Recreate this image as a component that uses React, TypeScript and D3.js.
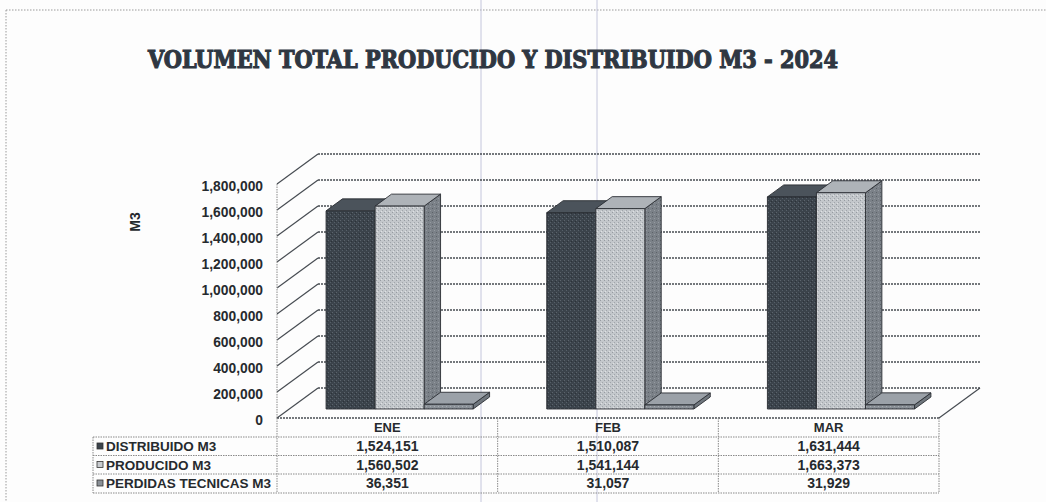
import React from "react";
import * as d3 from "d3";

const title = "VOLUMEN TOTAL PRODUCIDO Y DISTRIBUIDO M3 - 2024";
const yAxisTitle = "M3";
const categories = ["ENE", "FEB", "MAR"];
const seriesNames = ["DISTRIBUIDO M3", "PRODUCIDO M3", "PERDIDAS TECNICAS M3"];
const distribuido = [1524151, 1510087, 1631444];
const producido = [1560502, 1541144, 1663373];
const perdidas = [36351, 31057, 31929];
const yTicks = [0, 200000, 400000, 600000, 800000, 1000000, 1200000, 1400000, 1600000, 1800000];

const series = [distribuido, producido, perdidas];

const W = 1046;
const H = 502;
// plot geometry (front plane)
const X0 = 277;
const X1 = 939;
const Y0 = 418;
const Y1 = 184;
const DX = 41;
const DY = -30;
const F0 = 0.3;
const F1 = 0.7;

const faces = [
  { front: "url(#pDist)", top: "#4b535b", side: "#2f363d" },
  { front: "url(#pProd)", top: "#aeb3b8", side: "url(#pSide)" },
  { front: "url(#pPerd)", top: "#9ba1a8", side: "#6f767d" },
];

const fmt = d3.format(",");

export default function App() {
  const x = d3.scaleBand<string>().domain(categories).range([X0, X1]).paddingInner(0).paddingOuter(0);
  const y = d3.scaleLinear().domain([0, 1800000]).range([Y0, Y1]);
  const step = x.step();
  const bw = step / 4.5;
  const fx = F0 * DX;
  const fy = F0 * DY;
  const ddx = (F1 - F0) * DX;
  const ddy = (F1 - F0) * DY;

  const grid = "#474c52";
  const tableLine = "#8a8a8a";
  const ink = "#262a2e";

  const rowYs = [437, 455.5, 474, 493];

  const bars: JSX.Element[] = [];
  categories.forEach((c, ci) => {
    series.forEach((s, si) => {
      const v = s[ci];
      const bx0 = (x(c) as number) + 0.75 * bw + si * bw + fx;
      const bx1 = bx0 + bw;
      const yb = y(0) + fy;
      const yt = y(v) + fy;
      const f = faces[si];
      bars.push(
        <g key={`${c}-${si}`} stroke="#2a2e33" strokeWidth={0.9} strokeLinejoin="round">
          <polygon
            points={`${bx1},${yt} ${bx1 + ddx},${yt + ddy} ${bx1 + ddx},${yb + ddy} ${bx1},${yb}`}
            fill={f.side}
          />
          <polygon
            points={`${bx0},${yt} ${bx0 + ddx},${yt + ddy} ${bx1 + ddx},${yt + ddy} ${bx1},${yt}`}
            fill={f.top}
          />
          <rect x={bx0} y={yt} width={bw} height={Math.max(0.5, yb - yt)} fill={f.front} />
        </g>
      );
    });
  });

  return (
    <svg
      width={W}
      height={H}
      viewBox={`0 0 ${W} ${H}`}
      style={{ position: "absolute", left: 0, top: 0, background: "#fdfdfd" }}
      fontFamily="'Liberation Sans', Arial, sans-serif"
    >
      <defs>
        <pattern id="pDist" width="4" height="4" patternUnits="userSpaceOnUse">
          <rect width="4" height="4" fill="#3b434b" />
          <rect x="0" y="0" width="1" height="1" fill="#5c646c" />
          <rect x="2" y="2" width="1" height="1" fill="#566069" />
          <rect x="3" y="1" width="1" height="1" fill="#2c3238" />
        </pattern>
        <pattern id="pProd" width="4" height="4" patternUnits="userSpaceOnUse">
          <rect width="4" height="4" fill="#c3c7cb" />
          <rect x="0" y="0" width="1" height="1" fill="#969ba1" />
          <rect x="2" y="2" width="1" height="1" fill="#a0a5aa" />
          <rect x="1" y="3" width="1" height="1" fill="#dfe1e3" />
        </pattern>
        <pattern id="pSide" width="4" height="4" patternUnits="userSpaceOnUse">
          <rect width="4" height="4" fill="#7b8188" />
          <rect x="0" y="0" width="1" height="1" fill="#5c6268" />
          <rect x="2" y="2" width="1" height="1" fill="#959ba1" />
        </pattern>
        <pattern id="pPerd" width="4" height="4" patternUnits="userSpaceOnUse">
          <rect width="4" height="4" fill="#8a9097" />
          <rect x="0" y="0" width="1" height="1" fill="#6a7077" />
          <rect x="2" y="2" width="1" height="1" fill="#a9aeb3" />
        </pattern>
      </defs>

      {/* page border & scan lines */}
      <line x1={6} y1={10} x2={W} y2={10} stroke="#9a9a9a" strokeDasharray="1.5,1.5" />
      <line x1={6} y1={10} x2={6} y2={H} stroke="#9a9a9a" strokeDasharray="1.5,1.5" />
      <line x1={481} y1={0} x2={481} y2={H} stroke="#c4c6dc" strokeWidth={1} />
      <line x1={597} y1={0} x2={597} y2={H} stroke="#c4c6dc" strokeWidth={1} />

      {/* title */}
      <text
        x={148}
        y={68}
        textLength={690}
        lengthAdjust="spacingAndGlyphs"
        fontFamily="'DejaVu Serif Condensed', 'DejaVu Serif', serif"
        fontWeight="bold"
        fontSize={24}
        fill="#2f3742"
        stroke="#2f3742"
        strokeWidth={1.1}
      >
        {title}
      </text>

      {/* back wall gridlines */}
      {yTicks.map((t) => (
        <line
          key={`bg${t}`}
          x1={X0 + DX}
          x2={X1 + DX}
          y1={y(t) + DY}
          y2={y(t) + DY}
          stroke={grid}
          strokeWidth={1.6}
          strokeDasharray="2,1"
        />
      ))}
      {/* side wall diagonals */}
      {yTicks.map((t) => (
        <line
          key={`sd${t}`}
          x1={X0}
          x2={X0 + DX}
          y1={y(t)}
          y2={y(t) + DY}
          stroke={grid}
          strokeWidth={1.2}
        />
      ))}
      {/* front left axis */}
      <line x1={X0} x2={X0} y1={y(1800000)} y2={Y0} stroke="#8a8a8a" strokeDasharray="1.5,1" />
      {/* floor */}
      <line x1={X0} x2={X1} y1={Y0} y2={Y0} stroke={grid} strokeWidth={1.5} strokeDasharray="2,1" />
      <line x1={X1} x2={X1 + DX} y1={Y0} y2={Y0 + DY} stroke={grid} strokeWidth={1.2} />

      {/* y tick labels */}
      {yTicks.map((t) => (
        <text
          key={`yl${t}`}
          x={263}
          y={y(t) + 7}
          textAnchor="end"
          fontSize={13.8}
          fontWeight="bold"
          fill={ink}
        >
          {fmt(t)}
        </text>
      ))}
      <text
        transform="translate(140,222) rotate(-90)"
        textAnchor="middle"
        fontSize={14}
        fontWeight="bold"
        fill={ink}
      >
        {yAxisTitle}
      </text>

      {/* bars */}
      {bars}

      {/* data table */}
      <g stroke={tableLine} strokeWidth={1} strokeDasharray="1.5,1">
        {rowYs.map((ry) => (
          <line key={`r${ry}`} x1={93} x2={X1} y1={ry} y2={ry} />
        ))}
        <line x1={93} x2={93} y1={437} y2={493} />
        <line x1={X0} x2={X0} y1={Y0} y2={493} />
        {categories.map((c) => (
          <line key={`cv${c}`} x1={(x(c) as number) + step} x2={(x(c) as number) + step} y1={Y0} y2={493} />
        ))}
      </g>
      {categories.map((c) => (
        <text
          key={`hc${c}`}
          x={(x(c) as number) + step / 2}
          y={432}
          textAnchor="middle"
          fontSize={13}
          fontWeight="bold"
          fill={ink}
        >
          {c}
        </text>
      ))}
      {series.map((s, si) => (
        <g key={`row${si}`}>
          <rect
            x={97}
            y={rowYs[si] + 6}
            width={6}
            height={6}
            fill={si === 0 ? "#3b434b" : si === 1 ? "#c8cbcf" : "#8a9097"}
            stroke="#333"
            strokeWidth={0.8}
          />
          <text x={106} y={rowYs[si] + 14} fontSize={13.5} fontWeight="bold" fill={ink}>
            {seriesNames[si]}
          </text>
          {categories.map((c, ci) => (
            <text
              key={`v${si}${c}`}
              x={(x(c) as number) + step / 2}
              y={rowYs[si] + 14}
              textAnchor="middle"
              fontSize={14}
              fontWeight="bold"
              fill={ink}
            >
              {fmt(s[ci])}
            </text>
          ))}
        </g>
      ))}
    </svg>
  );
}
